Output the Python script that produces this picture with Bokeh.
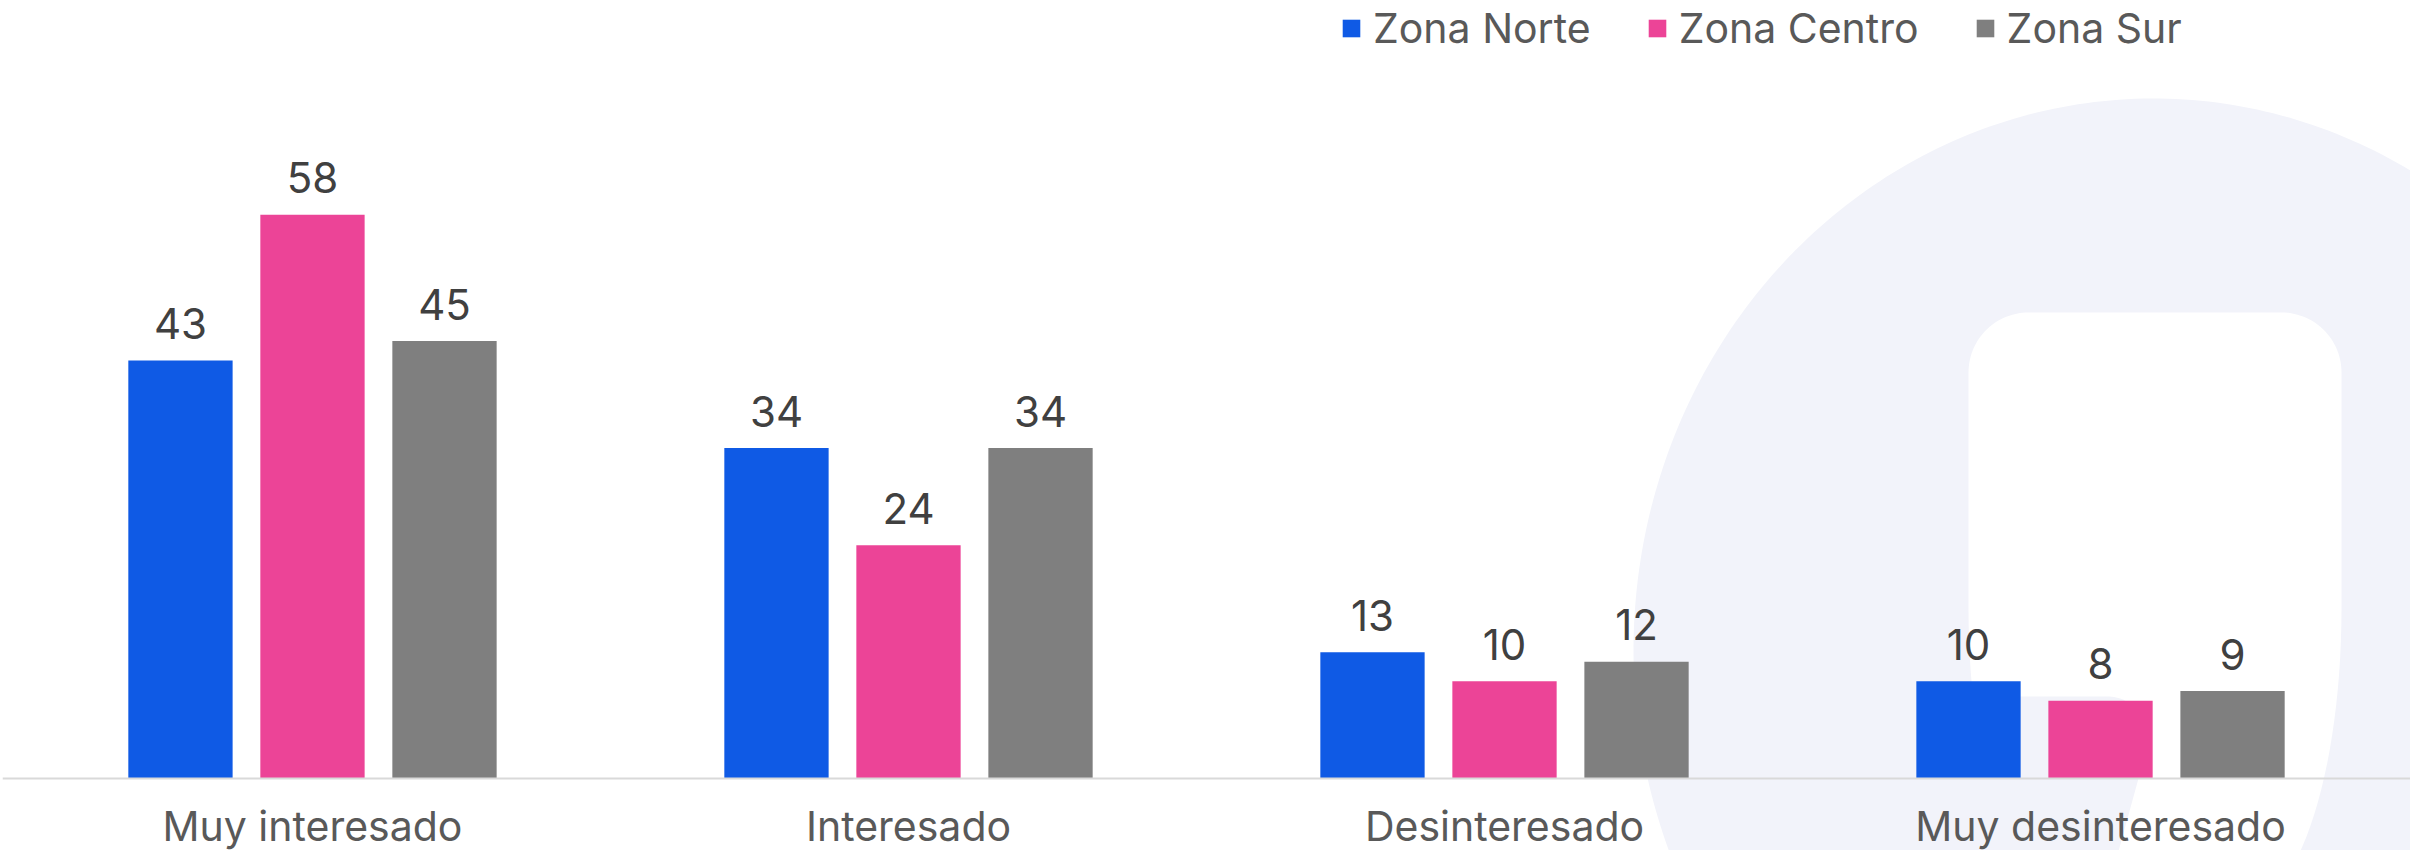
import numpy as np
from bokeh.plotting import figure
from bokeh.models import ColumnDataSource, FactorRange, Range1d, Legend, LegendItem
from bokeh.transform import dodge
from bokeh.core.properties import value
from bokeh.embed import file_html
from bokeh.resources import INLINE

# ---- data ----
categories = ["Muy interesado", "Interesado", "Desinteresado", "Muy desinteresado"]
series = ["Zona Norte", "Zona Centro", "Zona Sur"]
zona_norte = [43, 34, 13, 10]
zona_centro = [58, 24, 10, 8]
zona_sur = [45, 34, 12, 9]
colors = ["#0f5ae5", "#ec4497", "#7f7f7f"]

W, H = 2410, 850
LEFT = 2
PAD = 0.0201
Y0, Y1 = -7.407, 80.04
FONT = "Inter"
BG_SHAPE = "#f2f3fa"

p = figure(width=W, height=H,
           x_range=FactorRange(factors=categories, range_padding=PAD, range_padding_units="absolute"),
           y_range=Range1d(Y0, Y1), output_backend="svg",
           toolbar_location=None, y_axis_location=None,
           min_border_left=LEFT, min_border_right=0, min_border_top=0, min_border_bottom=0)
p.outline_line_color = None
p.xgrid.visible = False
p.ygrid.visible = False

# ---- decorative background: canvas pixels -> synthetic plot coordinates ----
UNIT = (W - LEFT) / (len(categories) + 2 * PAD)


def sx(cx):
    return (np.asarray(cx, dtype=float) - LEFT) / UNIT - PAD


def sy(cy):
    return Y1 - np.asarray(cy, dtype=float) * (Y1 - Y0) / H


t = np.linspace(0, 2 * np.pi, 400)
ex, ey, ea, eb = 2153, 650, 520, 552
p.patch(sx(ex + ea * np.cos(t)), sy(ey + eb * np.sin(t)),
        fill_color=BG_SHAPE, line_color=None)


def arc(cx, cy, rx, ry, a0, a1, n=30):
    a = np.linspace(np.radians(a0), np.radians(a1), n)
    return list(cx + rx * np.cos(a)), list(cy + ry * np.sin(a))


# inner white shape
x0, x1, y0, y1 = 1968, 2341, 312, 908
rt, rbx, rby = 60, 100, 300
xs, ys = [], []
for cx, cy, rx, ry, a0, a1 in [
    (x0 + rt, y0 + rt, rt, rt, 180, 270),
    (x1 - rt, y0 + rt, rt, rt, 270, 360),
    (x1 - rbx, y1 - rby, rbx, rby, 0, 90),
    (x0 + rbx, y1 - rby, rbx, rby, 90, 180),
]:
    ax_, ay_ = arc(cx, cy, rx, ry, a0, a1)
    xs += ax_
    ys += ay_
p.patch(sx(xs), sy(ys), fill_color="white", line_color=None)

# lavender bump inside the white shape (bottom-left)
bx0, bx1, by0 = 1958, 2147, 696
xs, ys = [bx0], [by0]
ax_, ay_ = arc(bx1 - 40, by0 + 40, 40, 40, 270, 360)
xs += ax_ + [2138, 2116, bx0]
ys += ay_ + [778, 858, 858]
p.patch(sx(xs), sy(ys), fill_color=BG_SHAPE, line_color=None)

# ---- bars ----
src = ColumnDataSource(dict(
    cat=categories,
    norte=zona_norte, centro=zona_centro, sur=zona_sur,
    norte_l=[str(v) for v in zona_norte],
    centro_l=[str(v) for v in zona_centro],
    sur_l=[str(v) for v in zona_sur],
))

offsets = [-0.2215, 0.0, 0.2215]
cols = ["norte", "centro", "sur"]
bw = 0.175
items = []
for name, col, off, c in zip(series, cols, offsets, colors):
    r = p.vbar(x=dodge("cat", off, range=p.x_range), top=col, width=bw, bottom=0,
               source=src, fill_color=c, line_color=None)
    p.text(x=dodge("cat", off, range=p.x_range), y=col, text=col + "_l", source=src,
           text_align="center", text_baseline="alphabetic", y_offset=-37,
           text_font=value(FONT), text_font_size="42px", text_color="#404040")
    items.append(LegendItem(label=name, renderers=[r]))

legend = Legend(items=items, orientation="horizontal", location=(1338, 797),
                glyph_width=22, glyph_height=22, label_standoff=11, spacing=55,
                padding=0, margin=0, border_line_alpha=0, background_fill_alpha=0,
                label_text_font=FONT, label_text_font_size="41px",
                label_text_color="#595959")
p.add_layout(legend)

# ---- axis ----
ax = p.xaxis[0]
ax.fixed_location = 0
ax.axis_line_color = "#d9d9d9"
ax.axis_line_width = 2
ax.major_tick_line_color = None
ax.minor_tick_line_color = None
ax.major_tick_out = 0
ax.major_tick_in = 0
ax.major_label_standoff = 22
ax.major_label_text_font = FONT
ax.major_label_text_font_size = "41px"
ax.major_label_text_color = "#595959"

open("out.html", "w").write(file_html(p, INLINE))
